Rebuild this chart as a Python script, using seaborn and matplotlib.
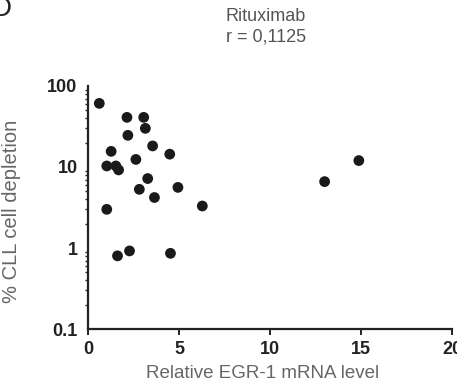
import matplotlib
matplotlib.use("Agg")
import matplotlib.pyplot as plt
import matplotlib.ticker as mticker
import seaborn as sns
import pandas as pd

egr1_level = [0.62, 2.14, 3.06, 3.15, 2.19, 3.55, 1.27, 4.49, 1.03, 1.53, 1.68, 2.63,
              3.28, 2.82, 4.94, 3.65, 6.28, 1.03, 1.62, 2.28, 4.53, 13.0, 14.88]
cll_depletion = [61, 41, 41, 30, 24.6, 18.2, 15.6, 14.4, 10.3, 10.3, 9.2, 12.4,
                 7.2, 5.3, 5.6, 4.2, 3.3, 3.0, 0.80, 0.92, 0.86, 6.6, 12.0]
x_ticks = [0, 5, 10, 15, 20]
y_ticks = [0.1, 1, 10, 100]
y_tick_labels = ["0.1", "1", "10", "100"]
title_text = "Rituximab\nr = 0,1125"
x_label = "Relative EGR-1 mRNA level"
y_label = "% CLL cell depletion"

sns.set_style("white")
plt.rcParams['font.family'] = ['Liberation Sans', 'DejaVu Sans']

df = pd.DataFrame({"egr1": egr1_level, "depl": cll_depletion})

fig = plt.figure(figsize=(4.57, 3.9), dpi=100)
ax = fig.add_axes([0.1926, 0.1564, 0.7965, 0.6231])
sns.scatterplot(data=df, x="egr1", y="depl", ax=ax, s=60, color="#1a1a1a",
                edgecolor="none", clip_on=False)
ax.set_yscale("log")
ax.set_xlim(0, 20)
ax.set_ylim(0.1, 100)
ax.set_xticks(x_ticks)
ax.set_xticklabels([str(t) for t in x_ticks])
ax.set_yticks(y_ticks)
ax.set_yticklabels(y_tick_labels)
ax.yaxis.set_minor_locator(mticker.LogLocator(base=10, subs=range(2, 10)))
ax.yaxis.set_minor_formatter(mticker.NullFormatter())
for s in ["top", "right"]:
    ax.spines[s].set_visible(False)
for s in ["left", "bottom"]:
    ax.spines[s].set_linewidth(1.6)
    ax.spines[s].set_color("#222222")
ax.tick_params(axis="both", which="major", direction="out", length=4.5, width=1.4,
               labelsize=13, colors="#222222", pad=3)
ax.tick_params(axis="y", which="minor", direction="out", length=2.5, width=1.0,
               colors="#222222", left=True)
ax.tick_params(axis="x", which="major", bottom=True, pad=4)
for lbl in ax.get_xticklabels() + ax.get_yticklabels():
    lbl.set_fontweight("bold")
ax.set_xlabel(x_label, fontsize=13.5, color="#666666")
ax.set_ylabel(y_label, fontsize=14.5, color="#666666")
ax.xaxis.set_label_coords(0.48, -0.15)
ax.yaxis.set_label_coords(-0.184, 0.483)
fig.text(0.582, 0.98, title_text, ha="center", va="top", fontsize=13,
         color="#555555", linespacing=1.3)
fig.text(-0.018, 1.01, "D", ha="left", va="top", fontsize=20, color="#222222")

fig.savefig("out.png", dpi=100)
